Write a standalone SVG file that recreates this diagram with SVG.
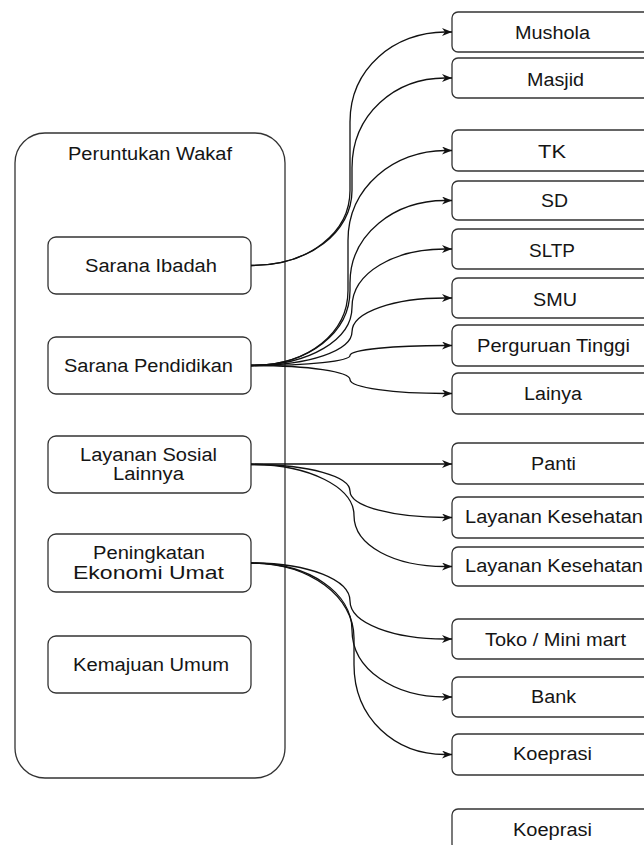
<svg xmlns="http://www.w3.org/2000/svg" width="644" height="845" viewBox="0 0 644 845">
<defs>
<style>
.box{fill:#fff;stroke:#333;stroke-width:1.3}
.t{font-family:"Liberation Sans",Arial,sans-serif;font-size:18px;fill:#151515}
.e{fill:none;stroke:#111;stroke-width:1.3;marker-end:url(#arr)}
</style>
<marker id="arr" markerWidth="11" markerHeight="9" refX="10" refY="4" orient="auto" markerUnits="userSpaceOnUse"><path d="M0,0 L10,4 L0,8 L3,4 z" fill="#111"/></marker>
</defs>
<rect width="644" height="845" fill="#fff"/>
<g id="container">
<rect class="box" x="15" y="133" width="270" height="645" rx="30"/>
<text class="t" x="68" y="160" textLength="164" lengthAdjust="spacingAndGlyphs">Peruntukan Wakaf</text>
</g>
<g id="sarana-ibadah"><rect class="box" x="48" y="237" width="203" height="57" rx="8"/><text class="t" x="85" y="272" textLength="132" lengthAdjust="spacingAndGlyphs">Sarana Ibadah</text></g>
<g id="sarana-pendidikan"><rect class="box" x="48" y="337" width="203" height="57" rx="8"/><text class="t" x="64" y="372" textLength="169" lengthAdjust="spacingAndGlyphs">Sarana Pendidikan</text></g>
<g id="layanan-sosial"><rect class="box" x="48" y="436" width="203" height="57" rx="8"/><text class="t" x="80" y="461" textLength="137" lengthAdjust="spacingAndGlyphs">Layanan Sosial</text><text class="t" x="113" y="480" textLength="71" lengthAdjust="spacingAndGlyphs">Lainnya</text></g>
<g id="peningkatan"><rect class="box" x="48" y="534" width="203" height="58" rx="8"/><text class="t" x="93" y="559" textLength="112" lengthAdjust="spacingAndGlyphs">Peningkatan</text><text class="t" x="73" y="579" textLength="151" lengthAdjust="spacingAndGlyphs">Ekonomi Umat</text></g>
<g id="kemajuan-umum"><rect class="box" x="48" y="636" width="203" height="57" rx="8"/><text class="t" x="73" y="671" textLength="156" lengthAdjust="spacingAndGlyphs">Kemajuan Umum</text></g>

<g id="mushola"><rect class="box" x="452" y="12" width="202" height="40" rx="6"/><text class="t" x="515" y="39" textLength="75" lengthAdjust="spacingAndGlyphs">Mushola</text></g>
<g id="masjid"><rect class="box" x="452" y="58" width="202" height="40" rx="6"/><text class="t" x="527" y="86" textLength="57" lengthAdjust="spacingAndGlyphs">Masjid</text></g>
<g id="tk"><rect class="box" x="452" y="130" width="202" height="41" rx="6"/><text class="t" x="538" y="158" textLength="28" lengthAdjust="spacingAndGlyphs">TK</text></g>
<g id="sd"><rect class="box" x="452" y="181" width="202" height="39" rx="6"/><text class="t" x="541" y="207" textLength="27" lengthAdjust="spacingAndGlyphs">SD</text></g>
<g id="sltp"><rect class="box" x="452" y="229" width="202" height="40" rx="6"/><text class="t" x="529" y="257" textLength="46" lengthAdjust="spacingAndGlyphs">SLTP</text></g>
<g id="smu"><rect class="box" x="452" y="278" width="202" height="40" rx="6"/><text class="t" x="533" y="306" textLength="44" lengthAdjust="spacingAndGlyphs">SMU</text></g>
<g id="pt"><rect class="box" x="452" y="325" width="202" height="41" rx="6"/><text class="t" x="477" y="352" textLength="153" lengthAdjust="spacingAndGlyphs">Perguruan Tinggi</text></g>
<g id="lainya"><rect class="box" x="452" y="373" width="202" height="41" rx="6"/><text class="t" x="524" y="400" textLength="58" lengthAdjust="spacingAndGlyphs">Lainya</text></g>
<g id="panti"><rect class="box" x="452" y="443" width="202" height="41" rx="6"/><text class="t" x="531" y="470" textLength="45" lengthAdjust="spacingAndGlyphs">Panti</text></g>
<g id="lk1"><rect class="box" x="452" y="497" width="202" height="41" rx="6"/><text class="t" x="465" y="523" textLength="178" lengthAdjust="spacingAndGlyphs">Layanan Kesehatan</text></g>
<g id="lk2"><rect class="box" x="452" y="547" width="202" height="39" rx="6"/><text class="t" x="465" y="572" textLength="178" lengthAdjust="spacingAndGlyphs">Layanan Kesehatan</text></g>
<g id="toko"><rect class="box" x="452" y="619" width="202" height="40" rx="6"/><text class="t" x="485" y="646" textLength="141" lengthAdjust="spacingAndGlyphs">Toko / Mini mart</text></g>
<g id="bank"><rect class="box" x="452" y="677" width="202" height="40" rx="6"/><text class="t" x="531" y="703" textLength="45" lengthAdjust="spacingAndGlyphs">Bank</text></g>
<g id="koeprasi1"><rect class="box" x="452" y="734" width="202" height="41" rx="6"/><text class="t" x="513" y="760" textLength="79" lengthAdjust="spacingAndGlyphs">Koeprasi</text></g>
<g id="koeprasi2"><rect class="box" x="452" y="809" width="202" height="41" rx="6"/><text class="t" x="513" y="836" textLength="79" lengthAdjust="spacingAndGlyphs">Koeprasi</text></g>

<g id="connectors">
<path class="e" d="M251 265.5 C310 265.5,350 231.75,350 190.5 L350 122 C350 68,395 32,445 32 L452 32"/>
<path class="e" d="M251 265.5 C310 265.5,352 231.75,352 190.5 L352 168 C352 114,395 78,445 78 L452 78"/>
<path class="e" d="M251 365.5 C310 365.5,348 331.75,348 290.5 L348 240.5 C348 186.5,395 150.5,445 150.5 L452 150.5"/>
<path class="e" d="M251 365.5 C310 365.5,350 331.75,350 290.5 L350 283 C350 233.5,395 200.5,445 200.5 L452 200.5"/>
<path class="e" d="M251 365.5 C310 365.5,352 339.3,352 307.25 C352 272.3,395 249,445 249 L452 249"/>
<path class="e" d="M251 365.5 C310 365.5,352 350.3,352 331.75 C352 311.5,395 298,445 298 L452 298"/>
<path class="e" d="M251 365.5 C310 365.5,350 361,350 355.5 C350 349.5,395 345.5,445 345.5 L452 345.5"/>
<path class="e" d="M251 365.5 C310 365.5,350 371.8,350 379.5 C350 387.9,395 393.5,445 393.5 L452 393.5"/>
<path class="e" d="M251 464 L452 464"/>
<path class="e" d="M251 464.5 C310 464.5,350 476.4,350 491 C350 506.9,395 517.5,445 517.5 L452 517.5"/>
<path class="e" d="M251 464.5 C310 464.5,354 487.5,354 515.5 C354 546.1,395 566.5,445 566.5 L452 566.5"/>
<path class="e" d="M251 563 C310 563,350 580.1,350 601 C350 623.8,395 639,445 639 L452 639"/>
<path class="e" d="M251 563 C310 563,352 593.15,352 630 C352 670.2,395 697,445 697 L452 697"/>
<path class="e" d="M251 563 C310 563,354 596.75,354 638 L354 664.5 C354 718.5,395 754.5,445 754.5 L452 754.5"/>
</g>
</svg>
